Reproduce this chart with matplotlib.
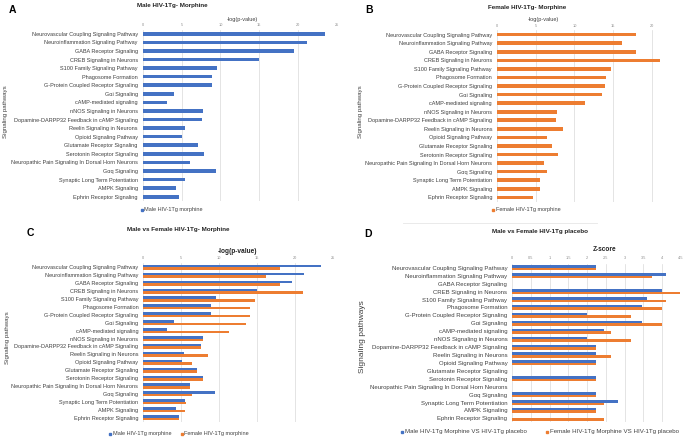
import numpy as np
import matplotlib
matplotlib.use("Agg")
import matplotlib.pyplot as plt
from matplotlib.lines import Line2D

plt.rcParams['font.family'] = ['Liberation Sans', 'DejaVu Sans']

W, H = 685, 438
BLUE = '#4472C4'
ORANGE = '#ED7D31'
GRID = '#d9d9d9'
TXT = '#404040'

pathways = [
    "Neurovascular Coupling Signaling Pathway",
    "Neuroinflammation Signaling Pathway",
    "GABA Receptor Signaling",
    "CREB Signaling in Neurons",
    "S100 Family Signaling Pathway",
    "Phagosome Formation",
    "G-Protein Coupled Receptor Signaling",
    "G\u03b1i Signaling",
    "cAMP-mediated signaling",
    "nNOS Signaling in Neurons",
    "Dopamine-DARPP32 Feedback in cAMP Signaling",
    "Reelin Signaling in Neurons",
    "Opioid Signaling Pathway",
    "Glutamate Receptor Signaling",
    "Serotonin Receptor Signaling",
    "Neuropathic Pain Signaling In Dorsal Horn Neurons",
    "G\u03b1q Signaling",
    "Synaptic Long Term Potentiation",
    "AMPK Signaling",
    "Ephrin Receptor Signaling",
]

# -log(p-value), morphine vs placebo
male_morphine = [23.4, 21.2, 19.5, 15.0, 9.6, 8.9, 8.9, 4.0, 3.1, 7.8,
                 7.6, 5.4, 5.1, 7.1, 7.9, 6.1, 9.4, 5.5, 4.3, 4.7]
female_morphine = [18.0, 16.1, 18.0, 21.0, 14.7, 14.1, 14.0, 13.5, 11.3, 7.8,
                   7.6, 8.5, 6.4, 7.1, 7.9, 6.1, 6.4, 5.6, 5.5, 4.7]

# z-scores, placebo comparison (0 = not reported)
male_z = [2.24, 4.12, 0, 4.0, 3.61, 3.46, 2.0, 3.46, 2.45, 2.0,
          2.24, 2.24, 2.24, 0, 2.24, 0, 2.24, 2.83, 2.24, 0]
female_z = [2.24, 3.74, 0, 4.47, 4.12, 4.0, 3.16, 4.0, 2.65, 3.16,
            2.24, 2.65, 2.24, 0, 2.24, 0, 2.24, 2.45, 2.24, 2.45]


def px_axes(fig, left, right, top, bottom):
    return fig.add_axes([left / W, 1 - bottom / H, (right - left) / W, (bottom - top) / H])


def ftext(fig, x, y, s, **kw):
    kw.setdefault('ha', 'center')
    kw.setdefault('va', 'center')
    fig.text(x / W, 1 - y / H, s, **kw)


def legend_item(fig, x, y, label, color, size):
    fig.add_artist(Line2D([x / W], [1 - y / H], marker='s', markersize=2.0,
                          color=color, linestyle='none', transform=fig.transFigure))
    ftext(fig, x + 3, y, label, ha='left', fontsize=size, color=TXT)


def style(ax, xmax, ticks, ticklabels, lab_size, tick_pad):
    n = len(pathways)
    ax.set_ylim(n - 0.5, -0.5)
    ax.set_xlim(0, xmax)
    ax.xaxis.tick_top()
    ax.set_xticks(ticks)
    ax.set_xticklabels(ticklabels)
    ax.tick_params(axis='x', length=0, pad=tick_pad, labelsize=2.8, labelcolor='#8c8c8c')
    ax.set_yticks(range(n))
    ax.set_yticklabels(pathways)
    ax.tick_params(axis='y', length=0, pad=3.6, labelsize=lab_size, labelcolor=TXT)
    ax.grid(True, axis='x', color=GRID, linewidth=0.5)
    ax.set_axisbelow(True)
    for s in ax.spines.values():
        s.set_visible(False)


fig = plt.figure(figsize=(W / 100, H / 100), dpi=100)
y = np.arange(len(pathways))

# ---- A ----
ax = px_axes(fig, 142.7, 337, 29.5, 201)
ax.barh(y, male_morphine, height=0.42, color=BLUE)
style(ax, 25, [0, 5, 10, 15, 20, 25], ['0', '5', '10', '15', '20', '25'], 4.0, 1.8)
ftext(fig, 12, 10, "A", fontsize=7.5, fontweight='bold')
ftext(fig, 172, 6, "Male HIV-1Tg- Morphine", fontsize=4.5, fontweight='bold', color='#222222')
ftext(fig, 242, 19, "-log(p-value)", fontsize=4.0, color=TXT)
ftext(fig, 6, 112, "Signaling pathways", fontsize=4.4, rotation=90, color=TXT)
legend_item(fig, 141.5, 210, "Male HIV-1Tg morphine", BLUE, 4.0)

# ---- B ----
ax = px_axes(fig, 497, 663.6, 30.4, 201.6)
ax.barh(y, female_morphine, height=0.42, color=ORANGE)
style(ax, 21.5, [0, 5, 10, 15, 20], ['0', '5', '10', '15', '20'], 4.0, 1.8)
ftext(fig, 369, 10, "B", fontsize=7.5, fontweight='bold')
ftext(fig, 527, 7, "Female HIV-1Tg- Morphine", fontsize=4.5, fontweight='bold', color='#222222')
ftext(fig, 543, 19, "-log(p-value)", fontsize=4.0, color=TXT)
ftext(fig, 361, 112, "Signaling pathways", fontsize=4.4, rotation=90, color=TXT)
legend_item(fig, 493, 210, "Female HIV-1Tg morphine", ORANGE, 4.0)

# ---- C ----
ax = px_axes(fig, 143.3, 333.3, 263.4, 421.6)
ax.barh(y - 0.16, male_morphine, height=0.32, color=BLUE)
ax.barh(y + 0.16, female_morphine, height=0.32, color=ORANGE)
style(ax, 25, [0, 5, 10, 15, 20, 25], ['0', '5', '10', '15', '20', '25'], 4.0, 2.4)
ftext(fig, 30, 233, "C", fontsize=7.5, fontweight='bold')
ftext(fig, 178, 230, "Male vs Female HIV-1Tg- Morphine", fontsize=4.5, fontweight='bold', color='#222222')
ftext(fig, 238, 251.5, "-log(p-value)", fontsize=4.7, fontweight='bold', color='#222222')
ftext(fig, 8, 338, "Signaling pathways", fontsize=4.4, rotation=90, color=TXT)
legend_item(fig, 110, 434, "Male HIV-1Tg morphine", BLUE, 4.0)
legend_item(fig, 181.5, 434, "Female HIV-1Tg morphine", ORANGE, 4.0)

# ---- D ----
ax = px_axes(fig, 512.3, 680.7, 263.9, 422.3)
ax.barh(y - 0.16, male_z, height=0.32, color=BLUE)
ax.barh(y + 0.16, female_z, height=0.32, color=ORANGE)
zt = [0, 0.5, 1, 1.5, 2, 2.5, 3, 3.5, 4, 4.5]
style(ax, 4.5, zt, ['0', '0.5', '1', '1.5', '2', '2.5', '3', '3.5', '4', '4.5'], 4.35, 3.0)
ftext(fig, 368, 234, "D", fontsize=7.5, fontweight='bold')
ftext(fig, 540, 232, "Male vs Female HIV-1Tg placebo", fontsize=4.5, fontweight='bold', color='#222222')
ftext(fig, 605, 249, "Z-score", fontsize=4.7, fontweight='bold', color='#222222')
ftext(fig, 362, 337, "Signaling pathways", fontsize=6.0, rotation=90, color=TXT)
legend_item(fig, 402, 432, "Male HIV-1Tg Morphine VS HIV-1Tg placebo", BLUE, 4.4)
legend_item(fig, 547, 432, "Female HIV-1Tg Morphine VS HIV-1Tg placebo", ORANGE, 4.4)
fig.add_artist(Line2D([403 / W, 597 / W], [1 - 223.3 / H] * 2, color='#e6e6e6',
                      linewidth=0.6, transform=fig.transFigure))

fig.savefig("out.png", dpi=100)
